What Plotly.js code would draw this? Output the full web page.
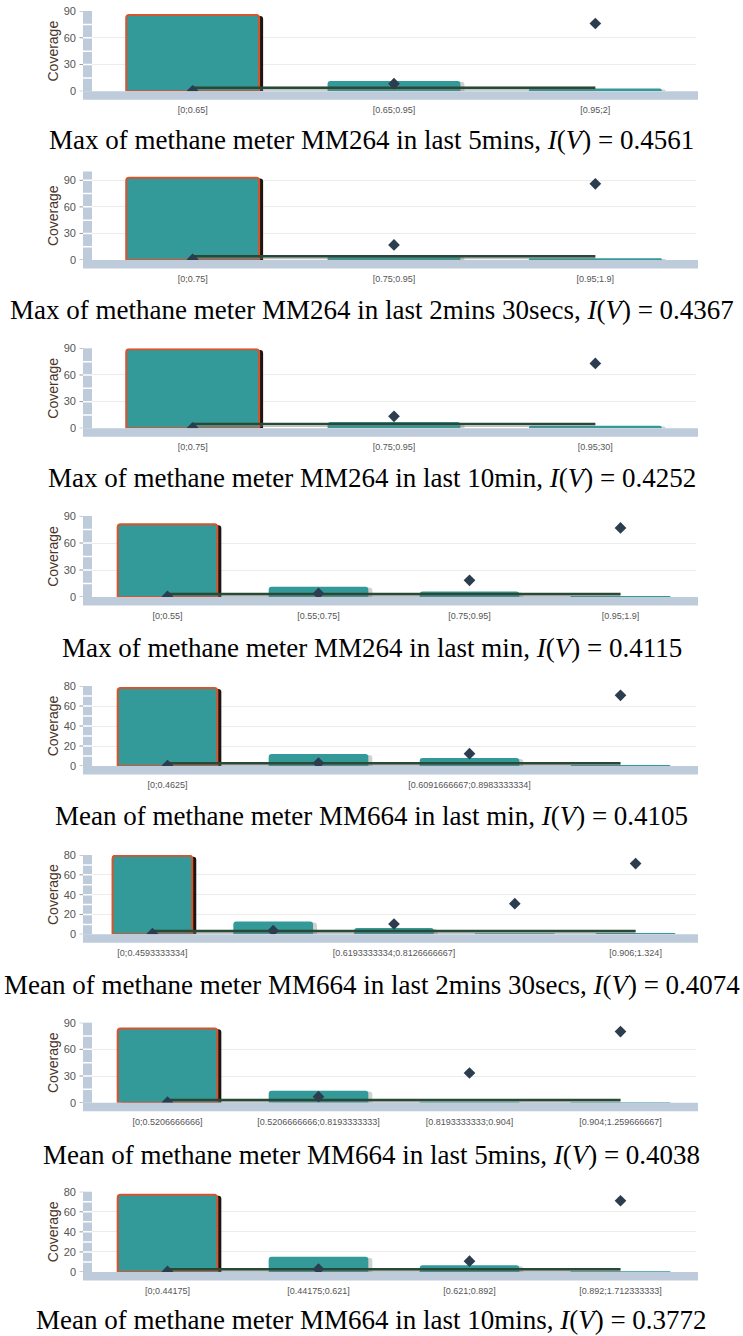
<!DOCTYPE html>
<html>
<head>
<meta charset="utf-8">
<script src="https://cdn.plot.ly/plotly-3.0.1.min.js"></script>
<style>html,body{margin:0;padding:0;background:#fff;}#chart{width:743px;height:1336px;}</style>
</head>
<body>
<div id="chart"></div>
<script>
// ---------- data ----------
const captions = [
  "Max of methane meter MM264 in last 5mins, <i>I</i>(<i>V</i>) = 0.4561",
  "Max of methane meter MM264 in last 2mins 30secs, <i>I</i>(<i>V</i>) = 0.4367",
  "Max of methane meter MM264 in last 10min, <i>I</i>(<i>V</i>) = 0.4252",
  "Max of methane meter MM264 in last min, <i>I</i>(<i>V</i>) = 0.4115",
  "Mean of methane meter MM664 in last min, <i>I</i>(<i>V</i>) = 0.4105",
  "Mean of methane meter MM664 in last 2mins 30secs, <i>I</i>(<i>V</i>) = 0.4074",
  "Mean of methane meter MM664 in last 5mins, <i>I</i>(<i>V</i>) = 0.4038",
  "Mean of methane meter MM664 in last 10mins, <i>I</i>(<i>V</i>) = 0.3772"
];

const categories1 = ["[0;0.65]", "[0.65;0.95]", "[0.95;2]"];
const coverage1 = [85.5, 11.6, 3];
const rate1 = [0.6, 8.5, 76];
const overall1 = [4, 4, 4];

const categories2 = ["[0;0.75]", "[0.75;0.95]", "[0.95;1.9]"];
const coverage2 = [93, 5, 2];
const rate2 = [0.8, 17, 86];
const overall2 = [4.2, 4.2, 4.2];

const categories3 = ["[0;0.75]", "[0.75;0.95]", "[0.95;30]"];
const coverage3 = [89, 7, 3];
const rate3 = [0.6, 13.5, 73];
const overall3 = [5, 5, 5];

const categories4 = ["[0;0.55]", "[0.55;0.75]", "[0.75;0.95]", "[0.95;1.9]"];
const coverage4 = [80.7, 11.5, 6, 1];
const rate4 = [0.6, 4, 18.5, 76.7];
const overall4 = [3.3, 3.3, 3.3, 3.3];

const categories5 = ["[0;0.4625]", "[0.4625;0.6091666667]", "[0.6091666667;0.8983333334]", "[0.8983333334;1.9]"];
const shownLabels5 = ["[0;0.4625]", "[0.6091666667;0.8983333334]"];
const coverage5 = [78, 12, 8, 1];
const rate5 = [0.5, 3, 12.3, 70.7];
const overall5 = [2.7, 2.7, 2.7, 2.7];

const categories6 = ["[0;0.4593333334]", "[0.4593333334;0.6193333334]", "[0.6193333334;0.8126666667]", "[0.8126666667;0.906]", "[0.906;1.324]"];
const shownLabels6 = ["[0;0.4593333334]", "[0.6193333334;0.8126666667]", "[0.906;1.324]"];
const coverage6 = [79.3, 12.8, 6.4, 1, 1.3];
const rate6 = [0.6, 3.7, 10.4, 30.9, 71.3];
const overall6 = [3.4, 3.4, 3.4, 3.4, 3.4];

const categories7 = ["[0;0.5206666666]", "[0.5206666666;0.8193333333]", "[0.8193333333;0.904]", "[0.904;1.259666667]"];
const coverage7 = [83.6, 13.5, 1.1, 0.8];
const rate7 = [0.6, 6.8, 33.4, 80];
const overall7 = [3, 3, 3, 3];

const categories8 = ["[0;0.44175]", "[0.44175;0.621]", "[0.621;0.892]", "[0.892;1.712333333]"];
const coverage8 = [77, 15.2, 6.8, 0.7];
const rate8 = [0.6, 3, 10.8, 71];
const overall8 = [2.7, 2.7, 2.7, 2.7];

const yTicks90 = [0, 30, 60, 90];
const yTicks80 = [0, 20, 40, 60, 80];

// ---------- layout geometry ----------
const W = 743, H = 1336;
const plotL = 92, plotR = 696;
const geom = [
  {top: 11,     zero: 91.3,  ymax: 90,  ticks: yTicks90, cap: 140},
  {top: 180.3,  zero: 260,   ymax: 100, ticks: yTicks90, cap: 310},
  {top: 348.3,  zero: 428.3, ymax: 90,  ticks: yTicks90, cap: 478},
  {top: 516,    zero: 597,   ymax: 90,  ticks: yTicks90, cap: 648},
  {top: 686,    zero: 766,   ymax: 80,  ticks: yTicks80, cap: 816},
  {top: 855,    zero: 934.3, ymax: 80,  ticks: yTicks80, cap: 985},
  {top: 1022.7, zero: 1102.7,ymax: 90,  ticks: yTicks90, cap: 1155},
  {top: 1191.7, zero: 1272,  ymax: 80,  ticks: yTicks80, cap: 1320}
];
const panels = [
  {cats: categories1, cov: coverage1, rate: rate1, overall: overall1, shown: categories1},
  {cats: categories2, cov: coverage2, rate: rate2, overall: overall2, shown: categories2},
  {cats: categories3, cov: coverage3, rate: rate3, overall: overall3, shown: categories3},
  {cats: categories4, cov: coverage4, rate: rate4, overall: overall4, shown: categories4},
  {cats: categories5, cov: coverage5, rate: rate5, overall: overall5, shown: shownLabels5},
  {cats: categories6, cov: coverage6, rate: rate6, overall: overall6, shown: shownLabels6},
  {cats: categories7, cov: coverage7, rate: rate7, overall: overall7, shown: categories7},
  {cats: categories8, cov: coverage8, rate: rate8, overall: overall8, shown: categories8}
];

const px = v => v / W;
const py = v => 1 - v / H;

const TEAL = '#339999';
const BAND = '#bdcbdb';
const traces = [];
const shapes = [];
const annotations = [];
const layout = {
  width: W, height: H, autosize: false,
  margin: {l: 0, r: 0, t: 0, b: 0, pad: 0},
  paper_bgcolor: '#ffffff', plot_bgcolor: '#ffffff',
  showlegend: false, barmode: 'overlay',
  font: {family: 'Liberation Sans, Arial, sans-serif', color: '#555'}
};

panels.forEach((p, k) => {
  const g = geom[k];
  const n = p.cats.length;
  const sfx = k === 0 ? '' : String(k + 1);
  const xa = 'x' + sfx, ya = 'y' + sfx;
  const pxPerCat = (plotR - plotL) / n;
  const bw = 0.66;
  const plotTop = g.zero - (g.zero - g.top) * g.ymax / g.ticks[g.ticks.length - 1];

  layout['xaxis' + sfx] = {
    domain: [px(plotL), px(plotR)], anchor: ya,
    type: 'category', categoryarray: p.cats, categoryorder: 'array',
    range: [-0.5, n - 0.5], fixedrange: true,
    showgrid: false, zeroline: false, showline: false, ticks: '',
    tickmode: 'array', tickvals: p.shown, ticktext: p.shown,
    tickangle: 0, ticklabelstandoff: 12,
    tickfont: {size: 9, color: '#555', family: 'Liberation Sans, Arial, sans-serif'}
  };
  layout['yaxis' + sfx] = {
    domain: [py(g.zero), py(plotTop)], anchor: xa,
    range: [0, g.ymax], fixedrange: true,
    showgrid: true, gridcolor: '#ececec', gridwidth: 1,
    zeroline: false, showline: false, ticks: '',
    tickmode: 'array', tickvals: g.ticks,
    ticklabelstandoff: 15,
    tickfont: {size: 11, color: '#555', family: 'Liberation Sans, Arial, sans-serif'},
    title: {text: 'Coverage', standoff: 1, font: {size: 14, color: '#4a3528', family: 'Liberation Sans, Arial, sans-serif'}}
  };

  // shadow behind bars
  traces.push({
    type: 'bar', x: p.cats, y: p.cov.map(v => Math.max(v - 1, 0)),
    xaxis: xa, yaxis: ya, width: bw, offset: -bw / 2 + 4 / pxPerCat,
    marker: {color: p.cats.map((c, i) => i === 0 ? 'rgba(15,10,5,0.95)' : 'rgba(0,0,0,0.18)'), line: {width: 0}, cornerradius: 3},
    hoverinfo: 'skip'
  });
  // coverage bars
  traces.push({
    type: 'bar', x: p.cats, y: p.cov, xaxis: xa, yaxis: ya, width: bw,
    marker: {color: TEAL, cornerradius: 3,
      line: {color: p.cats.map((c, i) => i === 0 ? '#d9532c' : TEAL), width: p.cats.map((c, i) => i === 0 ? 2 : 0)}},
    name: 'Coverage'
  });
  // overall line (with grey under-shadow)
  traces.push({
    type: 'scatter', mode: 'lines', x: p.cats, y: p.overall.map(v => v - 1.2),
    xaxis: xa, yaxis: ya, line: {color: 'rgba(120,120,120,0.45)', width: 4}, hoverinfo: 'skip'
  });
  traces.push({
    type: 'scatter', mode: 'lines', x: p.cats, y: p.overall,
    xaxis: xa, yaxis: ya, line: {color: '#264a36', width: 2.4}, name: 'Overall'
  });
  // rate diamonds
  traces.push({
    type: 'scatter', mode: 'markers', x: p.cats, y: p.rate,
    xaxis: xa, yaxis: ya, cliponaxis: true,
    marker: {symbol: 'diamond', size: 9, color: '#2b3d4f', line: {width: 0}}, name: 'Rate'
  });

  // axis bands (decoration)
  shapes.push({type: 'rect', xref: 'paper', yref: 'paper', x0: px(83), x1: px(698), y0: py(g.zero), y1: py(g.zero + 8.5), fillcolor: BAND, line: {width: 0}, layer: 'above'});
  shapes.push({type: 'rect', xref: 'paper', yref: 'paper', x0: px(83), x1: px(plotL), y0: py(g.zero), y1: py(plotTop), fillcolor: BAND, line: {width: 0}, layer: 'above'});
  const step = (g.ticks[1] - g.ticks[0]) / 2;
  for (let v = step; v < g.ymax; v += step) {
    shapes.push({type: 'line', xref: 'paper', yref: ya, x0: px(83), x1: px(plotL), y0: v, y1: v, line: {color: '#ffffff', width: 1.5}, layer: 'above'});
  }
  g.ticks.forEach(t => {
    shapes.push({type: 'line', xref: 'paper', yref: ya, x0: px(79.5), x1: px(83), y0: t, y1: t, line: {color: '#999999', width: 1}, layer: 'above'});
  });

  annotations.push({
    xref: 'paper', yref: 'paper', x: 0.5, y: py(g.cap), xanchor: 'center', yanchor: 'middle',
    text: captions[k], showarrow: false,
    font: {family: 'Liberation Serif, Times New Roman, serif', size: 27, color: '#000'}
  });
});

layout.shapes = shapes;
layout.annotations = annotations;

Plotly.newPlot('chart', traces, layout, {staticPlot: true, displayModeBar: false});
</script>
</body>
</html>
